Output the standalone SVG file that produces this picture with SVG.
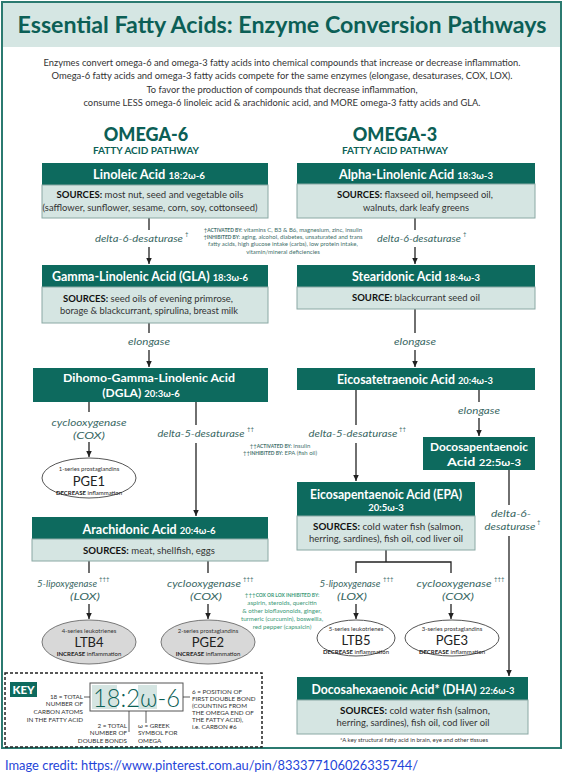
<svg xmlns="http://www.w3.org/2000/svg" width="564" height="784" viewBox="0 0 564 784">
<style>
text{font-family:Lato,"Open Sans",sans-serif}
.t{font-size:23px;font-weight:700;fill:#0c5f56;text-anchor:middle}
.intro{font-size:9.6px;fill:#333;text-anchor:middle}
.om{font-size:18px;font-weight:900;fill:#0c5f56;text-anchor:middle}
.fap{font-size:10px;font-weight:700;fill:#0c5f56;text-anchor:middle}
.hd{fill:#0d6a5e}
.src{fill:#d5e5e2;stroke:#8aa8a4;stroke-width:1}
.ht{font-size:12.5px;font-weight:700;fill:#fff;text-anchor:middle}
.h2{font-size:12px}
.hs{font-size:9.5px}
.st{font-size:10px;fill:#333;text-anchor:middle}
.stb{font-weight:700;fill:#111}
.enz{font-size:10px;font-style:italic;fill:#3a6864;text-anchor:middle}
.dg{font-size:6px;fill:#3a6864}
.ln{stroke:#222;stroke-width:1.3;fill:none}
.arr{stroke:#222;stroke-width:1.3;fill:none;marker-end:url(#ah)}
.ell{fill:#fff;stroke:#555;stroke-width:1}
.ellg{fill:#d8d8d8;stroke:#777;stroke-width:1}
.es{font-size:6px;fill:#333;text-anchor:middle}
.em{font-size:13px;fill:#222;text-anchor:middle}
.ed{font-size:6px;fill:#222;text-anchor:middle}
.edb{font-weight:700}
.note{font-size:6px;fill:#44706b;text-anchor:middle}
.noteg{font-size:6.2px;fill:#3b9a78;text-anchor:middle}
.cap{font-size:4.9px;font-weight:700}
.key{font-size:6.3px;fill:#333}
</style>
<defs>
<marker id="ah" markerUnits="userSpaceOnUse" markerWidth="7" markerHeight="6" refX="6.5" refY="3" orient="auto">
<path d="M0,0 L6.5,3 L0,6 z" fill="#222"/>
</marker>
</defs>

<rect x="2" y="2" width="559" height="746" fill="#fff" stroke="#2b7a70" stroke-width="2"/>
<rect x="3" y="3" width="557" height="44" fill="#d5e6e3"/>
<text x="282" y="33" class="t" textLength="529" lengthAdjust="spacingAndGlyphs">Essential Fatty Acids: Enzyme Conversion Pathways</text>

<text class="intro" x="282" y="66" textLength="477" lengthAdjust="spacingAndGlyphs">Enzymes convert omega-6 and omega-3 fatty acids into chemical compounds that increase or decrease inflammation.</text>
<text class="intro" x="282" y="79" textLength="461" lengthAdjust="spacingAndGlyphs">Omega-6 fatty acids and omega-3 fatty acids compete for the same enzymes (elongase, desaturases, COX, LOX).</text>
<text class="intro" x="282" y="93" textLength="271" lengthAdjust="spacingAndGlyphs">To favor the production of compounds that decrease inflammation,</text>
<text class="intro" x="282" y="106" textLength="397" lengthAdjust="spacingAndGlyphs">consume LESS omega-6 linoleic acid &amp; arachidonic acid, and MORE omega-3 fatty acids and GLA.</text>

<text class="om" x="146" y="141">OMEGA-6</text>
<text class="fap" x="146" y="154">FATTY ACID PATHWAY</text>
<text class="om" x="395" y="141">OMEGA-3</text>
<text class="fap" x="395" y="154">FATTY ACID PATHWAY</text>

<g id="connectors">
<line class="ln" x1="149" y1="218" x2="149" y2="230"/>
<line class="arr" x1="149" y1="247" x2="149" y2="264"/>
<line class="ln" x1="149" y1="323" x2="149" y2="333"/>
<line class="arr" x1="149" y1="350" x2="149" y2="367"/>
<line class="ln" x1="89" y1="402" x2="89" y2="412"/>
<line class="arr" x1="89" y1="442" x2="89" y2="457"/>
<line class="ln" x1="196" y1="402" x2="196" y2="425"/>
<line class="arr" x1="196" y1="443" x2="196" y2="516"/>
<line class="ln" x1="89" y1="561" x2="89" y2="573"/>
<line class="arr" x1="89" y1="604" x2="89" y2="619"/>
<line class="ln" x1="208" y1="561" x2="208" y2="573"/>
<line class="arr" x1="208" y1="604" x2="208" y2="619"/>
<line class="ln" x1="415" y1="218" x2="415" y2="230"/>
<line class="arr" x1="415" y1="247" x2="415" y2="264"/>
<line class="ln" x1="415" y1="309" x2="415" y2="333"/>
<line class="arr" x1="415" y1="350" x2="415" y2="367"/>
<line class="ln" x1="356" y1="390" x2="356" y2="425"/>
<line class="arr" x1="356" y1="443" x2="356" y2="481"/>
<line class="ln" x1="479" y1="390" x2="479" y2="402"/>
<line class="arr" x1="479" y1="418" x2="479" y2="436"/>
<line class="ln" x1="509" y1="470" x2="509" y2="505"/>
<line class="arr" x1="509" y1="536" x2="509" y2="676"/>
<polyline class="ln" points="386,550 386,562"/>
<polyline class="ln" points="356,573 356,562 451,562 451,573"/>
<line class="arr" x1="356" y1="604" x2="356" y2="619"/>
<line class="arr" x1="451" y1="604" x2="451" y2="619"/>

<text class="enz" x="139" y="242" textLength="88" lengthAdjust="spacingAndGlyphs">delta-6-desaturase</text>
<text class="dg" x="185" y="236">†</text>
<text class="enz" x="149" y="345" textLength="42" lengthAdjust="spacingAndGlyphs">elongase</text>
<text class="enz" x="89" y="426" textLength="75" lengthAdjust="spacingAndGlyphs">cyclooxygenase</text>
<text class="enz" x="89" y="439" textLength="32" lengthAdjust="spacingAndGlyphs">(COX)</text>
<text class="enz" x="201" y="437" textLength="87" lengthAdjust="spacingAndGlyphs">delta-5-desaturase</text>
<text class="dg" x="247" y="431">††</text>
<text class="enz" x="67" y="587" textLength="60" lengthAdjust="spacingAndGlyphs">5-lipoxygenase</text>
<text class="dg" x="99" y="581">†††</text>
<text class="enz" x="85" y="600" textLength="30" lengthAdjust="spacingAndGlyphs">(LOX)</text>
<text class="enz" x="204" y="587" textLength="74" lengthAdjust="spacingAndGlyphs">cyclooxygenase</text>
<text class="dg" x="243" y="581">†††</text>
<text class="enz" x="206" y="600" textLength="32" lengthAdjust="spacingAndGlyphs">(COX)</text>
<text class="enz" x="419" y="242" textLength="84" lengthAdjust="spacingAndGlyphs">delta-6-desaturase</text>
<text class="dg" x="463" y="236">†</text>
<text class="enz" x="415" y="345" textLength="42" lengthAdjust="spacingAndGlyphs">elongase</text>
<text class="enz" x="353" y="437" textLength="89" lengthAdjust="spacingAndGlyphs">delta-5-desaturase</text>
<text class="dg" x="399" y="431">††</text>
<text class="enz" x="479" y="414" textLength="42" lengthAdjust="spacingAndGlyphs">elongase</text>
<text class="enz" x="511" y="517" textLength="40" lengthAdjust="spacingAndGlyphs">delta-6-</text>
<text class="enz" x="510" y="530" textLength="51" lengthAdjust="spacingAndGlyphs">desaturase</text>
<text class="dg" x="537" y="524">†</text>
<text class="enz" x="350" y="587" textLength="61" lengthAdjust="spacingAndGlyphs">5-lipoxygenase</text>
<text class="dg" x="383" y="581">†††</text>
<text class="enz" x="352" y="600" textLength="30" lengthAdjust="spacingAndGlyphs">(LOX)</text>
<text class="enz" x="454" y="587" textLength="75" lengthAdjust="spacingAndGlyphs">cyclooxygenase</text>
<text class="dg" x="494" y="581">†††</text>
<text class="enz" x="458" y="600" textLength="32" lengthAdjust="spacingAndGlyphs">(COX)</text>
</g>

<g id="notes">
<text class="note" x="283" y="232">†<tspan class="cap">ACTIVATED BY:</tspan> vitamins C, B3 &amp; B6, magnesium, zinc, insulin</text>
<text class="note" x="283" y="239">†<tspan class="cap">INHIBITED BY:</tspan> aging, alcohol, diabetes, unsaturated and trans</text>
<text class="note" x="283" y="246">fatty acids, high glucose intake (carbs), low protein intake,</text>
<text class="note" x="283" y="254">vitamin/mineral deficiencies</text>
<text class="note" x="280" y="448">††<tspan class="cap">ACTIVATED BY:</tspan> insulin</text>
<text class="note" x="280" y="455">††<tspan class="cap">INHIBITED BY:</tspan> EPA (fish oil)</text>
<text class="noteg" x="282" y="597">†††<tspan class="cap">COX OR LOX INHIBITED BY:</tspan></text>
<text class="noteg" x="282" y="605">aspirin, steroids, quercitin</text>
<text class="noteg" x="282" y="613">&amp; other bioflavonoids, ginger,</text>
<text class="noteg" x="282" y="621">turmeric (curcumin), boswellia,</text>
<text class="noteg" x="282" y="629">red pepper (capsaicin)</text>
</g>

<g id="linoleic">
<rect class="hd" x="42" y="163" width="226" height="22"/>
<rect class="src" x="42" y="185" width="226" height="33"/>
<text class="ht" x="149" y="179" textLength="112" lengthAdjust="spacingAndGlyphs">Linoleic Acid <tspan class="hs">18:2ω-6</tspan></text>
<text class="st" x="150" y="198" textLength="187" lengthAdjust="spacingAndGlyphs"><tspan class="stb">SOURCES:</tspan> most nut, seed and vegetable oils</text>
<text class="st" x="150" y="211" textLength="215" lengthAdjust="spacingAndGlyphs">(safflower, sunflower, sesame, corn, soy, cottonseed)</text>
</g>
<g id="gla">
<rect class="hd" x="42" y="265" width="226" height="22"/>
<rect class="src" x="42" y="287" width="226" height="36"/>
<text class="ht" x="150" y="281" textLength="196" lengthAdjust="spacingAndGlyphs">Gamma-Linolenic Acid (GLA) <tspan class="hs">18:3ω-6</tspan></text>
<text class="st" x="148" y="302" textLength="170" lengthAdjust="spacingAndGlyphs"><tspan class="stb">SOURCES:</tspan> seed oils of evening primrose,</text>
<text class="st" x="149" y="314" textLength="178" lengthAdjust="spacingAndGlyphs">borage &amp; blackcurrant, spirulina, breast milk</text>
</g>
<g id="dgla">
<rect class="hd" x="33" y="368" width="235" height="34"/>
<text class="ht h2" x="149" y="382" textLength="172" lengthAdjust="spacingAndGlyphs">Dihomo-Gamma-Linolenic Acid</text>
<text class="ht h2" x="141" y="397">(DGLA) <tspan class="hs">20:3ω-6</tspan></text>
</g>
<g id="pge1">
<ellipse class="ell" cx="89" cy="478" rx="47" ry="20"/>
<text class="es" x="89" y="471">1-series prostaglandins</text>
<text class="em" x="89" y="485.5">PGE1</text>
<text class="ed" x="89" y="495"><tspan class="edb">DECREASE</tspan> inflammation</text>
</g>
<g id="arachidonic">
<rect class="hd" x="32" y="517" width="236" height="22"/>
<rect class="src" x="32" y="539" width="236" height="22"/>
<text class="ht" x="149" y="534" textLength="133" lengthAdjust="spacingAndGlyphs">Arachidonic Acid <tspan class="hs">20:4ω-6</tspan></text>
<text class="st" x="149" y="554" textLength="132" lengthAdjust="spacingAndGlyphs"><tspan class="stb">SOURCES:</tspan> meat, shellfish, eggs</text>
</g>
<g id="ltb4">
<ellipse class="ellg" cx="89" cy="642" rx="47" ry="22"/>
<text class="es" x="89" y="633">4-series leukotrienes</text>
<text class="em" x="89" y="646.5">LTB4</text>
<text class="ed" x="89" y="656"><tspan class="edb">INCREASE</tspan> inflammation</text>
</g>
<g id="pge2">
<ellipse class="ellg" cx="208" cy="642" rx="47" ry="22"/>
<text class="es" x="208" y="633">2-series prostaglandins</text>
<text class="em" x="208" y="646.5">PGE2</text>
<text class="ed" x="208" y="656"><tspan class="edb">INCREASE</tspan> inflammation</text>
</g>

<g id="ala">
<rect class="hd" x="297" y="163" width="238" height="21"/>
<rect class="src" x="297" y="184" width="238" height="34"/>
<text class="ht" x="416" y="179" textLength="154" lengthAdjust="spacingAndGlyphs">Alpha-Linolenic Acid <tspan class="hs">18:3ω-3</tspan></text>
<text class="st" x="415" y="198" textLength="156" lengthAdjust="spacingAndGlyphs"><tspan class="stb">SOURCES:</tspan> flaxseed oil, hempseed oil,</text>
<text class="st" x="416" y="211" textLength="106" lengthAdjust="spacingAndGlyphs">walnuts, dark leafy greens</text>
</g>
<g id="stearidonic">
<rect class="hd" x="297" y="265" width="238" height="22"/>
<rect class="src" x="297" y="287" width="238" height="22"/>
<text class="ht" x="416" y="281" textLength="128" lengthAdjust="spacingAndGlyphs">Stearidonic Acid <tspan class="hs">18:4ω-3</tspan></text>
<text class="st" x="416" y="301" textLength="128" lengthAdjust="spacingAndGlyphs"><tspan class="stb">SOURCE:</tspan> blackcurrant seed oil</text>
</g>
<g id="eta">
<rect class="hd" x="297" y="368" width="238" height="22"/>
<text class="ht" x="415" y="384" textLength="156" lengthAdjust="spacingAndGlyphs">Eicosatetraenoic Acid <tspan class="hs">20:4ω-3</tspan></text>
</g>
<g id="dpa">
<rect class="hd" x="423" y="437" width="112" height="33"/>
<text class="ht h2" x="479" y="451" textLength="98" lengthAdjust="spacingAndGlyphs">Docosapentaenoic</text>
<text class="ht h2" x="484" y="466" textLength="74" lengthAdjust="spacingAndGlyphs">Acid <tspan class="hs">22:5ω-3</tspan></text>
</g>
<g id="epa">
<rect class="hd" x="297" y="482" width="178" height="34"/>
<rect class="src" x="297" y="516" width="178" height="34"/>
<text class="ht" x="386" y="499" textLength="152" lengthAdjust="spacingAndGlyphs">Eicosapentaenoic Acid (EPA)</text>
<text class="ht" x="386" y="511"><tspan class="hs">20:5ω-3</tspan></text>
<text class="st" x="388" y="530" textLength="150" lengthAdjust="spacingAndGlyphs"><tspan class="stb">SOURCES:</tspan> cold water fish (salmon,</text>
<text class="st" x="386" y="542" textLength="154" lengthAdjust="spacingAndGlyphs">herring, sardines), fish oil, cod liver oil</text>
</g>
<g id="ltb5">
<ellipse class="ell" cx="356" cy="638" rx="39" ry="18"/>
<text class="es" x="356" y="631">5-series leukotrienes</text>
<text class="em" x="356" y="645">LTB5</text>
<text class="ed" x="356" y="653.5"><tspan class="edb">DECREASE</tspan> inflammation</text>
</g>
<g id="pge3">
<ellipse class="ell" cx="452" cy="638" rx="47" ry="18"/>
<text class="es" x="452" y="631">3-series prostaglandins</text>
<text class="em" x="452" y="645">PGE3</text>
<text class="ed" x="452" y="653.5"><tspan class="edb">DECREASE</tspan> inflammation</text>
</g>
<g id="dha">
<rect class="hd" x="297" y="677" width="231" height="23"/>
<rect class="src" x="297" y="700" width="231" height="34"/>
<text class="ht" x="413" y="694" textLength="203" lengthAdjust="spacingAndGlyphs">Docosahexaenoic Acid* (DHA) <tspan class="hs">22:6ω-3</tspan></text>
<text class="st" x="415" y="714" textLength="150" lengthAdjust="spacingAndGlyphs"><tspan class="stb">SOURCES:</tspan> cold water fish (salmon,</text>
<text class="st" x="413" y="726" textLength="153" lengthAdjust="spacingAndGlyphs">herring, sardines), fish oil, cod liver oil</text>
<text class="es" x="414" y="742" textLength="148" lengthAdjust="spacingAndGlyphs">*A key structural fatty acid in brain, eye and other tissues</text>
</g>

<g id="key">
<rect x="5" y="673" width="257" height="74" fill="none" stroke="#222" stroke-width="1.5" stroke-dasharray="3,2"/>
<rect x="10" y="682" width="27" height="15" fill="#0d6a5e"/>
<text x="23.5" y="694" font-size="11.5" font-weight="900" fill="#fff" text-anchor="middle">KEY</text>
<rect x="90" y="683" width="93" height="28" fill="#fff" stroke="#555" stroke-width="1"/>
<rect x="92" y="685" width="25" height="24" fill="#d5e5e2"/>
<rect x="138" y="685" width="19" height="24" fill="#d5e5e2"/>
<text x="136.5" y="707" font-size="25" font-weight="300" fill="#0c5f56" text-anchor="middle" textLength="87" lengthAdjust="spacingAndGlyphs">18:2ω-6</text>
<line x1="84" y1="697" x2="90" y2="697" stroke="#333" stroke-width="0.8"/>
<line x1="129" y1="711" x2="129" y2="732" stroke="#333" stroke-width="0.8"/>
<line x1="146" y1="711" x2="146" y2="723" stroke="#333" stroke-width="0.8"/>
<line x1="183" y1="697" x2="190" y2="697" stroke="#333" stroke-width="0.8"/>
<text class="key" x="83" y="699" text-anchor="end">18 = TOTAL</text>
<text class="key" x="83" y="706" text-anchor="end">NUMBER OF</text>
<text class="key" x="83" y="714" text-anchor="end">CARBON ATOMS</text>
<text class="key" x="83" y="722" text-anchor="end">IN THE FATTY ACID</text>
<text class="key" x="127" y="728" text-anchor="end">2 = TOTAL</text>
<text class="key" x="127" y="735" text-anchor="end">NUMBER OF</text>
<text class="key" x="127" y="743" text-anchor="end">DOUBLE BONDS</text>
<text class="key" x="138" y="728">ω = GREEK</text>
<text class="key" x="138" y="735">SYMBOL FOR</text>
<text class="key" x="138" y="743">OMEGA</text>
<text class="key" x="192" y="694">6 = POSITION OF</text>
<text class="key" x="192" y="701">FIRST DOUBLE BOND</text>
<text class="key" x="192" y="708">(COUNTING FROM</text>
<text class="key" x="192" y="715">THE OMEGA END OF</text>
<text class="key" x="192" y="722">THE FATTY ACID),</text>
<text class="key" x="192" y="729">i.e. CARBON #6</text>
</g>

<text x="5" y="770" font-family="Liberation Sans, Arial, sans-serif" font-size="14" fill="#1f45d9" textLength="413" lengthAdjust="spacingAndGlyphs">Image credit: https://www.pinterest.com.au/pin/833377106026335744/</text>
</svg>
